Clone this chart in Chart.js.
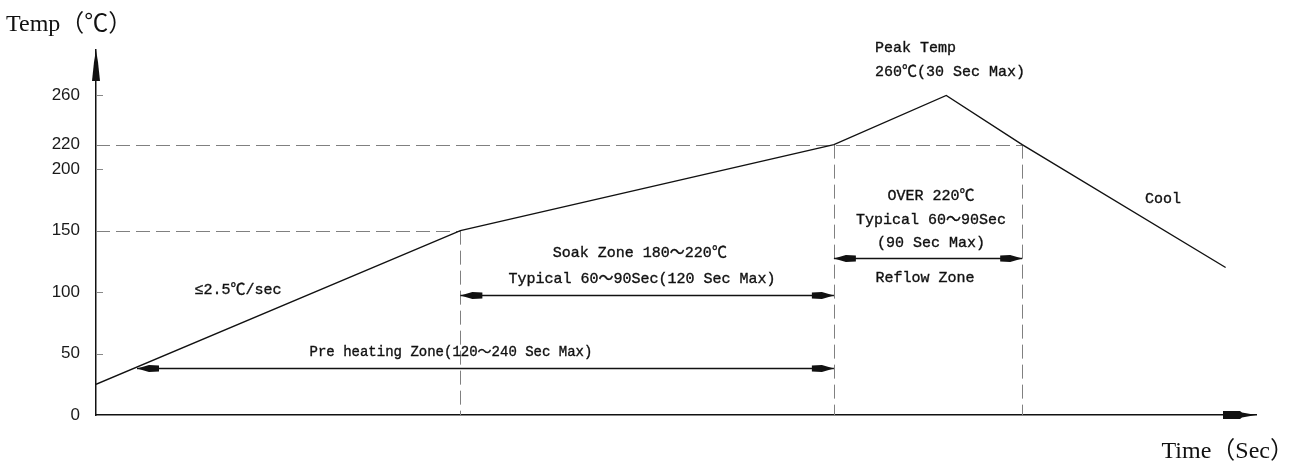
<!DOCTYPE html>
<html><head><meta charset="utf-8">
<script src="https://cdn.jsdelivr.net/npm/chart.js@4/dist/chart.umd.min.js"></script>
<style>html,body{margin:0;padding:0;background:#fff;}#wrap{width:1299px;height:466px;position:relative;}canvas{display:block;}</style>
</head><body><div id="wrap"><canvas id="c" width="1299" height="466" style="width:1299px;height:466px"></canvas></div>
<script>
// ---- profile data (time in s, temperature in °C) ----
const timeSec = [0, 120, 243, 280, 305, 372];
const tempC   = [25, 150, 220, 260, 220, 120];
const yTickValues = [0, 50, 100, 150, 200, 220, 260];
const yTickMarks  = [50, 100, 200, 260];
// horizontal dashed guides
const guideTemps = [150, 220];
const guideEnds  = [120, 305];
// vertical dashed zone boundaries
const zoneTimes = [120, 243, 305];
const zoneTops  = [150, 220, 220];
// double-headed dimension arrows
const arrowStarts = [13.5, 120, 243];
const arrowEnds   = [243, 243, 305];
const arrowTemps  = [38, 97.5, 127.6];
// annotation texts
const noteTexts = ["Peak Temp", "260℃(30 Sec Max)", "OVER 220℃", "Typical 60～90Sec", "(90 Sec Max)", "Reflow Zone", "Cool",
                   "Soak Zone 180～220℃", "Typical 60～90Sec(120 Sec Max)", "Pre heating Zone(120～240 Sec Max)", "≤2.5℃/sec"];
const noteTimes = [256.5, 256.5, 275, 275, 275, 273, 351.4, 179.1, 179.8, 116.9, 46.8];
const noteTemps = [298.6, 279.1, 178.2, 158.7, 140, 111.5, 175.8, 131.8, 110.7, 50.9, 101.7];
const noteAlign = ["left", "left", "center", "center", "center", "center", "center", "center", "center", "center", "center"];
const yTitle = "Temp（℃）";
const xTitle = "Time（Sec）";

const INK = '#111';
const TXT_FONT = '15px "Liberation Mono", "Noto Sans CJK SC", monospace';

function head(ctx, x, y, dir) {
  ctx.beginPath();
  ctx.moveTo(x, y);
  ctx.lineTo(x - dir * 12, y - 3.5);
  ctx.lineTo(x - dir * 22, y - 3);
  ctx.lineTo(x - dir * 22, y + 3);
  ctx.lineTo(x - dir * 12, y + 3.5);
  ctx.closePath();
  ctx.fill();
}

const drawPlugin = {
  id: 'reflowDecor',
  beforeDatasetsDraw(chart) {
    const {ctx, scales: {x, y}, chartArea: a} = chart;
    ctx.save();
    ctx.strokeStyle = '#808080';
    ctx.lineWidth = 1;
    ctx.setLineDash([14, 6]);
    guideTemps.forEach((t, i) => {
      const py = Math.round(y.getPixelForValue(t)) + 0.5;
      ctx.beginPath(); ctx.moveTo(a.left, py); ctx.lineTo(x.getPixelForValue(guideEnds[i]), py); ctx.stroke();
    });
    zoneTimes.forEach((t, i) => {
      const px = Math.round(x.getPixelForValue(t)) + 0.5;
      ctx.beginPath(); ctx.moveTo(px, y.getPixelForValue(zoneTops[i])); ctx.lineTo(px, a.bottom); ctx.stroke();
    });
    ctx.setLineDash([]);
    // inward tick marks
    ctx.strokeStyle = '#888';
    yTickMarks.forEach(v => {
      const py = Math.round(y.getPixelForValue(v)) + 0.5;
      ctx.beginPath(); ctx.moveTo(a.left, py); ctx.lineTo(a.left + 7, py); ctx.stroke();
    });
    ctx.restore();
  },
  afterDraw(chart) {
    const {ctx, scales: {x, y}, chartArea: a} = chart;
    ctx.save();
    ctx.fillStyle = INK; ctx.strokeStyle = INK; ctx.lineWidth = 1.3;
    // dimension arrows
    arrowStarts.forEach((s, i) => {
      const x0 = x.getPixelForValue(s), x1 = x.getPixelForValue(arrowEnds[i]);
      const py = Math.round(y.getPixelForValue(arrowTemps[i])) + 0.5;
      ctx.beginPath(); ctx.moveTo(x0, py); ctx.lineTo(x1, py); ctx.stroke();
      head(ctx, x0, py, -1);
      head(ctx, x1, py, 1);
    });
    // axis arrowheads
    const ax = a.left, ay = a.bottom;
    ctx.beginPath();
    ctx.moveTo(ax, a.top);
    ctx.lineTo(ax + 2, a.top + 12);
    ctx.lineTo(ax + 4, a.top + 31);
    ctx.lineTo(ax - 4, a.top + 31);
    ctx.lineTo(ax - 2, a.top + 12);
    ctx.closePath(); ctx.fill();
    ctx.beginPath();
    ctx.moveTo(a.right, ay);
    ctx.lineTo(a.right - 14, ay - 2.5);
    ctx.lineTo(a.right - 16, ay - 4);
    ctx.lineTo(a.right - 33, ay - 4);
    ctx.lineTo(a.right - 33, ay + 4);
    ctx.lineTo(a.right - 16, ay + 4);
    ctx.lineTo(a.right - 14, ay + 2.5);
    ctx.closePath(); ctx.fill();
    // annotations
    ctx.textBaseline = 'middle';
    ctx.lineWidth = 0.35;
    noteTexts.forEach((t, i) => {
      ctx.textAlign = noteAlign[i];
      ctx.font = (i === 9) ? '14px "Liberation Mono", "Noto Sans CJK SC", monospace' : TXT_FONT;
      const px = x.getPixelForValue(noteTimes[i]), py = y.getPixelForValue(noteTemps[i]);
      ctx.fillText(t, px, py);
      ctx.strokeText(t, px, py);
    });
    // axis titles
    ctx.font = '24px "Liberation Serif", "Noto Sans CJK SC", serif';
    ctx.textAlign = 'left';
    ctx.fillText(yTitle, 6, 25);
    ctx.textAlign = 'right';
    ctx.fillText(xTitle, 1294, 452);
    ctx.restore();
  }
};

new Chart(document.getElementById('c'), {
  type: 'scatter',
  data: {
    datasets: [{
      data: timeSec.map((t, i) => ({x: t, y: tempC[i]})),
      showLine: true, borderColor: INK, borderWidth: 1.4,
      pointRadius: 0, tension: 0, fill: false
    }]
  },
  options: {
    responsive: false, animation: false, devicePixelRatio: 1,
    layout: {padding: {top: 50, right: 43, left: 0, bottom: 0}},
    plugins: {legend: {display: false}, tooltip: {enabled: false}, title: {display: false}},
    scales: {
      x: {
        type: 'linear', min: 0, max: 382,
        grid: {display: false, drawTicks: false},
        border: {display: true, color: INK, width: 1.5},
        ticks: {display: false},
        afterFit(s) { s.height = 51; }
      },
      y: {
        type: 'linear', min: 0, max: 297,
        afterBuildTicks(s) { s.ticks = yTickValues.map(v => ({value: v})); },
        grid: {display: false, drawTicks: false},
        border: {display: true, color: INK, width: 1.5},
        ticks: {padding: 16, color: '#1a1a1a', font: {family: 'Liberation Sans', size: 17}},
        afterFit(s) { s.width = 96; }
      }
    }
  },
  plugins: [drawPlugin]
});
</script>
</body></html>
